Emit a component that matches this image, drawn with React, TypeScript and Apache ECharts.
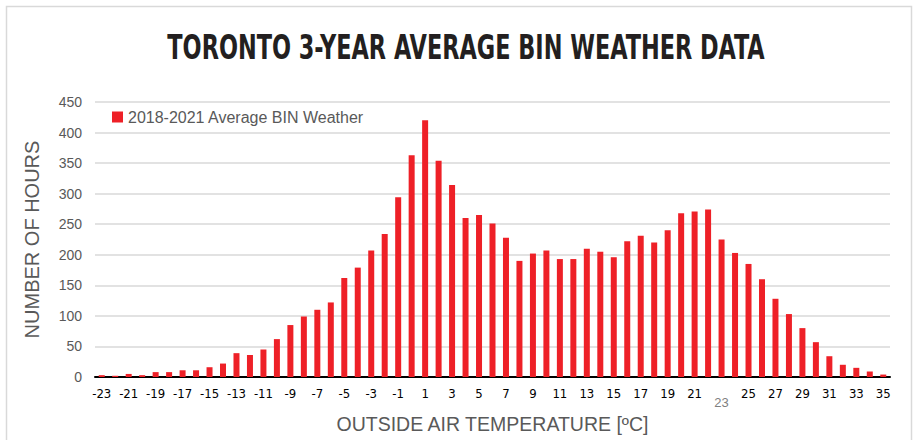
import React, { useEffect, useRef } from "react";
import * as echarts from "echarts";

const titleText = "TORONTO 3-YEAR AVERAGE BIN WEATHER DATA";
const seriesName = "2018-2021 Average BIN Weather";
const xAxisTitle = "OUTSIDE AIR TEMPERATURE [ºC]";
const yAxisTitle = "NUMBER OF HOURS";

const temperatures = [
  "-23", "-22", "-21", "-20", "-19", "-18", "-17", "-16", "-15", "-14",
  "-13", "-12", "-11", "-10", "-9", "-8", "-7", "-6", "-5", "-4",
  "-3", "-2", "-1", "0", "1", "2", "3", "4", "5", "6",
  "7", "8", "9", "10", "11", "12", "13", "14", "15", "16",
  "17", "18", "19", "20", "21", "22", "23", "24", "25", "26",
  "27", "28", "29", "30", "31", "32", "33", "34", "35",
];

const hours = [
  3, 2, 5, 3, 8, 8, 11, 11, 16, 22,
  39, 36, 45, 62, 85, 99, 110, 122, 162, 179,
  207, 234, 294, 363, 420, 354, 314, 260, 265, 251,
  228, 190, 202, 207, 193, 193, 210, 205, 196, 222,
  231, 220, 240, 268, 271, 274, 225, 203, 185, 160,
  128, 103, 80, 57, 34, 20, 15, 9, 4,
];

const yTicks = { min: 0, max: 450, interval: 50 };

const NARROW = "'Liberation Sans Narrow', 'DejaVu Sans Condensed', 'Arial Narrow', sans-serif";
const SANS = "'Liberation Sans', Arial, Helvetica, sans-serif";

export default function App() {
  const ref = useRef<HTMLDivElement>(null);

  useEffect(() => {
    document.body.style.margin = "0";
    const chart = echarts.init(ref.current!, null, { renderer: "svg" });
    chart.setOption({
      animation: false,
      backgroundColor: "#ffffff",
      graphic: [
        {
          type: "rect",
          shape: { x: 6.5, y: 6.5, width: 905, height: 445 },
          style: { fill: "none", stroke: "#d9d9d9", lineWidth: 1.5 },
          silent: true,
          z: -1,
        },
        {
          type: "text",
          x: 466,
          y: 48,
          scaleX: 0.755,
          style: {
            text: titleText,
            textAlign: "center",
            textVerticalAlign: "middle",
            fontFamily: "'DejaVu Sans Condensed', sans-serif",
            fontWeight: "bold",
            fontSize: 33,
            fill: "#231f20",
          },
          silent: true,
        },
      ],
      legend: {
        left: 107,
        top: 104,
        icon: "rect",
        itemWidth: 11,
        itemHeight: 11,
        itemGap: 6,
        textStyle: { fontFamily: SANS, fontSize: 16, color: "#595959" },
        data: [seriesName],
      },
      grid: {
        left: 95,
        right: 32,
        top: 102,
        bottom: 63,
        outerBoundsMode: "none",
        containLabel: false,
      },
      xAxis: {
        type: "category",
        data: temperatures,
        name: xAxisTitle,
        nameLocation: "middle",
        nameGap: 37,
        nameTextStyle: { fontFamily: SANS, fontSize: 19.5, color: "#595959" },
        axisLine: { lineStyle: { color: "#000000", width: 2 } },
        axisTick: { show: false },
        axisLabel: {
          interval: 1,
          margin: 10,
          fontFamily: NARROW,
          fontSize: 13,
          color: "#000000",
          formatter: (v: string) => (v === "23" ? "{odd|" + v + "}" : v),
          rich: {
            odd: {
              fontFamily: SANS,
              fontSize: 13,
              color: "#7f7f7f",
              padding: [9, 0, 0, 0],
            },
          },
        },
      },
      yAxis: {
        type: "value",
        min: yTicks.min,
        max: yTicks.max,
        interval: yTicks.interval,
        name: yAxisTitle,
        nameLocation: "middle",
        nameGap: 53,
        nameTextStyle: { fontFamily: SANS, fontSize: 20, color: "#595959" },
        axisLine: { show: false },
        axisTick: { show: false },
        axisLabel: {
          margin: 13,
          fontFamily: SANS,
          fontSize: 14,
          color: "#595959",
        },
        splitLine: { lineStyle: { color: "#d9d9d9", width: 1.5 } },
      },
      series: [
        {
          name: seriesName,
          type: "bar",
          data: hours,
          barWidth: 6,
          itemStyle: { color: "#ee2027" },
        },
      ],
    });
    return () => chart.dispose();
  }, []);

  return (
    <div
      ref={ref}
      style={{ position: "fixed", left: 0, top: 0, width: 922, height: 440 }}
    />
  );
}
